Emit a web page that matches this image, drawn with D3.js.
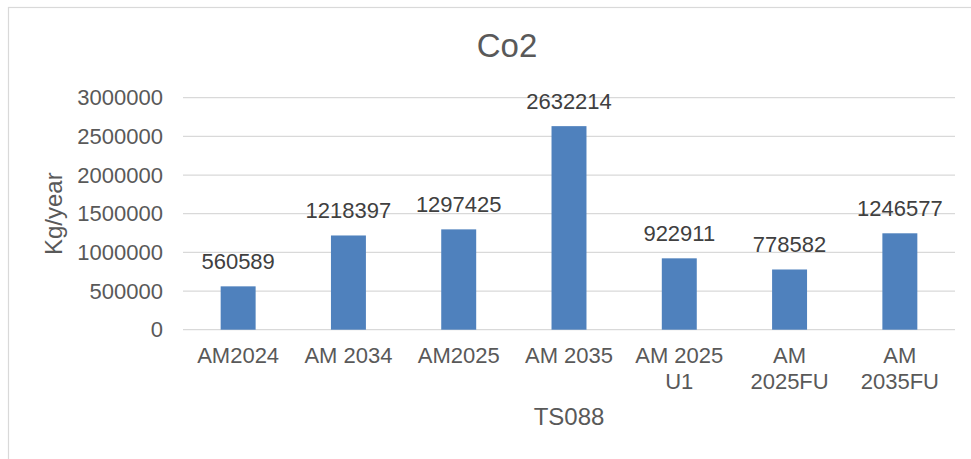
<!DOCTYPE html>
<html>
<head>
<meta charset="utf-8">
<script src="https://cdn.jsdelivr.net/npm/d3@7"></script>
<style>
  html, body { margin: 0; padding: 0; background: #fff; }
  svg { display: block; }
  text { font-family: "Liberation Sans", Arial, sans-serif; }
</style>
</head>
<body>
<svg id="chart" width="971" height="459"></svg>
<script>
const title = "Co2";
const categories = ["AM2024", "AM 2034", "AM2025", "AM 2035", "AM 2025 U1", "AM 2025FU", "AM 2035FU"];
const tickLines = [["AM2024"], ["AM 2034"], ["AM2025"], ["AM 2035"], ["AM 2025", "U1"], ["AM", "2025FU"], ["AM", "2035FU"]];
const values = [560589, 1218397, 1297425, 2632214, 922911, 778582, 1246577];
const yTicks = [0, 500000, 1000000, 1500000, 2000000, 2500000, 3000000];
const xTitle = "TS088";
const yTitle = "Kg/year";

(function () {
const svg = d3.select("#chart");
const pLeft = 183, pRight = 955, pTop = 97.7, pBottom = 329.7;

// chart border
svg.append("rect").attr("x", 8.5).attr("y", 7.5).attr("width", 975).attr("height", 470)
  .attr("fill", "#fff").attr("stroke", "#d9d9d9").attr("stroke-width", 1.2);

const x = d3.scaleBand().domain(categories).range([pLeft, pRight]).paddingInner(0.683).paddingOuter(0.3415);
const y = d3.scaleLinear().domain([0, 3000000]).range([pBottom, pTop]);

// gridlines
svg.append("g").selectAll("line").data(yTicks).join("line")
  .attr("x1", pLeft).attr("x2", pRight)
  .attr("y1", d => y(d)).attr("y2", d => y(d))
  .attr("stroke", "#d9d9d9").attr("stroke-width", 1.2);

// y tick labels
svg.append("g").selectAll("text").data(yTicks).join("text")
  .attr("x", 163).attr("y", d => y(d)).attr("dy", "0.35em")
  .attr("text-anchor", "end").attr("font-size", 22).attr("fill", "#595959")
  .text(d => d3.format("d")(d));

// bars
svg.append("g").selectAll("rect").data(values).join("rect")
  .attr("x", (d, i) => x(categories[i]))
  .attr("width", x.bandwidth())
  .attr("y", d => y(d))
  .attr("height", d => y(0) - y(d))
  .attr("fill", "#4F81BD");

// value labels
svg.append("g").selectAll("text").data(values).join("text")
  .attr("x", (d, i) => x(categories[i]) + x.bandwidth() / 2)
  .attr("y", d => y(d) - 17)
  .attr("text-anchor", "middle").attr("font-size", 22).attr("fill", "#404040")
  .text(d => d);

// x tick labels
const xt = svg.append("g").selectAll("text").data(categories).join("text")
  .attr("text-anchor", "middle").attr("font-size", 22).attr("fill", "#595959")
  .attr("x", d => x(d) + x.bandwidth() / 2).attr("y", 363);
xt.each(function (d, i) {
  const t = d3.select(this);
  tickLines[i].forEach((ln, j) => {
    t.append("tspan").attr("x", x(d) + x.bandwidth() / 2).attr("dy", j === 0 ? 0 : 25.5).text(ln);
  });
});

// title
svg.append("text").attr("x", 507).attr("y", 56.5).attr("text-anchor", "middle")
  .attr("font-size", 33).attr("fill", "#595959").text(title);

// axis titles
svg.append("text").attr("x", (pLeft + pRight) / 2).attr("y", 425).attr("text-anchor", "middle")
  .attr("font-size", 24).attr("fill", "#595959").text(xTitle);
svg.append("text").attr("transform", `translate(62, ${(pTop + pBottom) / 2}) rotate(-90)`)
  .attr("text-anchor", "middle").attr("font-size", 24).attr("fill", "#595959").text(yTitle);
})();
</script>
</body>
</html>
